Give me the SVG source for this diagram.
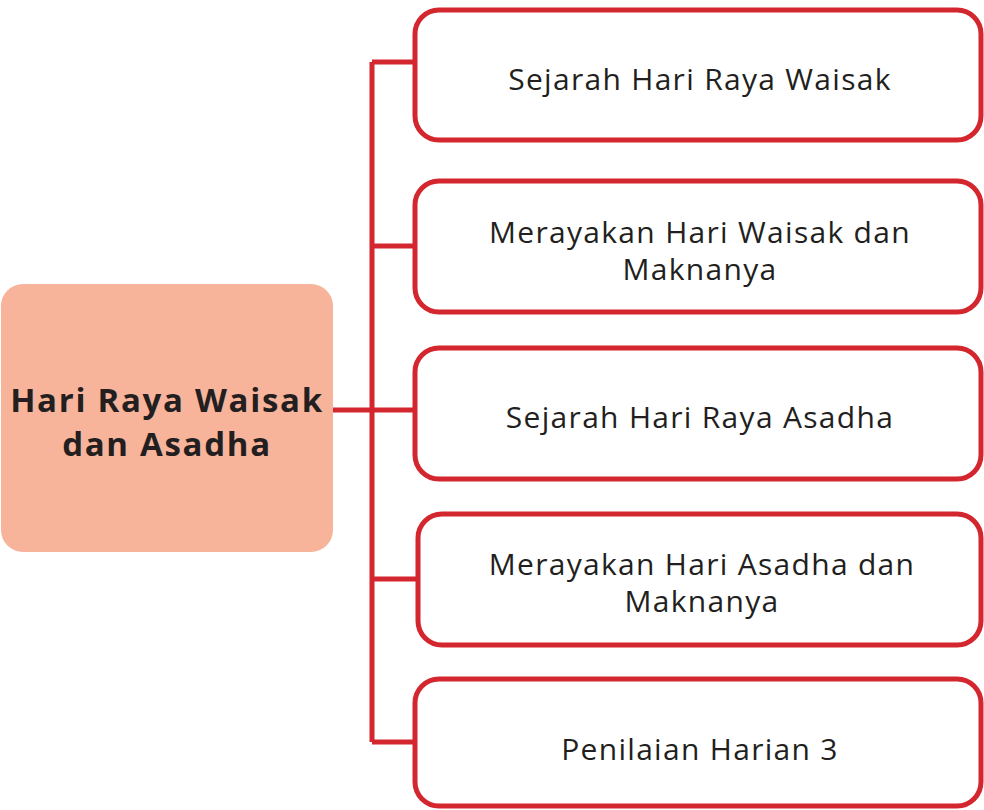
<svg xmlns="http://www.w3.org/2000/svg" width="984" height="810" viewBox="0 0 984 810">
  <style>
    .box { fill: #ffffff; stroke: #d4262e; stroke-width: 5; }
    .hub { fill: #f8b39b; }
    .wire { fill: none; stroke: #d4262e; stroke-width: 5; }
    .lbl { font-family: "Open Sans", "Liberation Sans", sans-serif; font-size: 30px; letter-spacing: 1.3px; fill: #231f20; text-anchor: middle; }
    .hubtxt { font-family: "Open Sans", "Liberation Sans", sans-serif; font-size: 33px; letter-spacing: 1.7px; font-weight: bold; fill: #231f20; text-anchor: middle; }
  </style>

  <g id="connectors">
    <path class="wire" d="M372 62 V742"/>
    <path class="wire" d="M372 62 H415 M372 246 H415 M333 410 H415 M372 579 H418 M372 742 H415"/>
  </g>

  <g id="hub">
    <rect class="hub" x="1" y="284" width="332" height="268" rx="22"/>
    <text class="hubtxt" x="167" y="412">Hari Raya Waisak</text>
    <text class="hubtxt" x="167" y="456">dan Asadha</text>
  </g>

  <g id="node1">
    <rect class="box" x="415" y="10" width="566" height="130" rx="24"/>
    <text class="lbl" x="700" y="90">Sejarah Hari Raya Waisak</text>
  </g>

  <g id="node2">
    <rect class="box" x="415" y="181" width="566" height="131" rx="24"/>
    <text class="lbl" x="700" y="243">Merayakan Hari Waisak dan</text>
    <text class="lbl" x="700" y="280">Maknanya</text>
  </g>

  <g id="node3">
    <rect class="box" x="415" y="348" width="566" height="131" rx="24"/>
    <text class="lbl" x="700" y="428">Sejarah Hari Raya Asadha</text>
  </g>

  <g id="node4">
    <rect class="box" x="418" y="514" width="563" height="131" rx="24"/>
    <text class="lbl" x="702" y="575">Merayakan Hari Asadha dan</text>
    <text class="lbl" x="702" y="612">Maknanya</text>
  </g>

  <g id="node5">
    <rect class="box" x="415" y="679" width="566" height="127" rx="24"/>
    <text class="lbl" x="700" y="760">Penilaian Harian 3</text>
  </g>
</svg>
